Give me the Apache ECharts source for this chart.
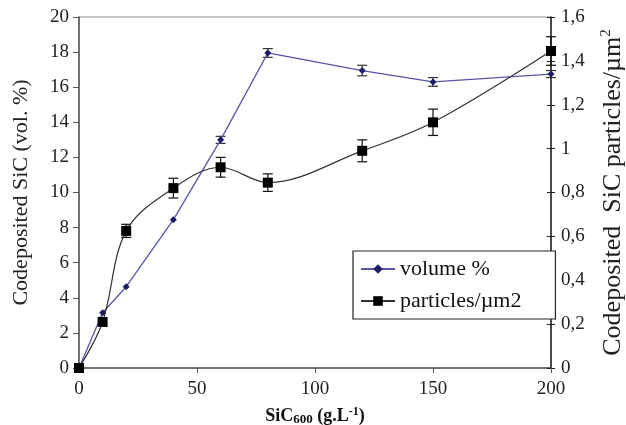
<!DOCTYPE html>
<html>
<head>
<meta charset="utf-8">
<script src="https://cdn.jsdelivr.net/npm/echarts@6/dist/echarts.min.js"></script>
<style>
  html, body { margin: 0; padding: 0; background: #fff; }
  #chart { width: 626px; height: 425px; }
</style>
</head>
<body>
<div id="chart"></div>
<script>
// concentration SiC600 (g/L)
const concentrations = [0, 10, 20, 40, 60, 80, 120, 150, 200];
// vol. % (left axis)
const volumePct = [0, 3.15, 4.63, 8.45, 13.0, 17.95, 16.95, 16.3, 16.75];
const volumeErr = [0, 0, 0, 0, 0.2, 0.25, 0.3, 0.25, 0.2];
// particles / um2 (right axis)
const particles = [0, 0.21, 0.625, 0.82, 0.915, 0.845, 0.99, 1.12, 1.445];
const particlesErr = [0, 0, 0.03, 0.045, 0.045, 0.04, 0.05, 0.06, 0.065];

const FONT = '"Liberation Serif", "DejaVu Serif", serif';

const chart = echarts.init(document.getElementById('chart'));

const pairs = (ys) => concentrations.map((x, i) => [x, ys[i]]);
const errRows = (ys, errs) => concentrations
  .map((x, i) => [x, ys[i], errs[i]])
  .filter(r => r[2] > 0);

// error bars drawn with custom series, positions come from the axis scales
const errorBar = (color) => function (params, api) {
  const x = api.value(0), y = api.value(1), e = api.value(2);
  const hi = api.coord([x, y + e]);
  const lo = api.coord([x, y - e]);
  const cap = 5;
  const style = { stroke: color, lineWidth: 1.2 };
  return {
    type: 'group',
    children: [
      { type: 'line', shape: { x1: hi[0], y1: hi[1], x2: lo[0], y2: lo[1] }, style },
      { type: 'line', shape: { x1: hi[0] - cap, y1: hi[1], x2: hi[0] + cap, y2: hi[1] }, style },
      { type: 'line', shape: { x1: lo[0] - cap, y1: lo[1], x2: lo[0] + cap, y2: lo[1] }, style }
    ]
  };
};

const commaFmt = v => String(Math.round(v * 10) / 10).replace('.', ',');

chart.setOption({
  animation: false,
  textStyle: { fontFamily: FONT },
  grid: {
    left: 79, right: 75, top: 17, bottom: 57,
    outerBoundsMode: 'none',
    containLabel: false,
    show: true, borderColor: '#8a8a8a', borderWidth: 1
  },
  legend: {
    orient: 'vertical',
    left: 353, top: 251,
    padding: [7, 34, 7, 7],
    itemGap: 10,
    itemWidth: 34, itemHeight: 12,
    borderColor: '#222', borderWidth: 1.2,
    backgroundColor: '#fff',
    textStyle: { fontFamily: FONT, fontSize: 22, color: '#111' },
    data: ['volume %', 'particles/µm2']
  },
  xAxis: {
    type: 'value', min: 0, max: 200, interval: 50,
    name: '{b|SiC}{sub|600}{b| (g.L}{sup|-1}{b|)}',
    nameLocation: 'middle', nameGap: 38,
    nameTextStyle: {
      rich: {
        b: { fontFamily: FONT, fontSize: 18, fontWeight: 'bold', color: '#111' },
        sub: { fontFamily: FONT, fontSize: 13, fontWeight: 'bold', color: '#111', verticalAlign: 'bottom', padding: [6, 0, 0, 0] },
        sup: { fontFamily: FONT, fontSize: 12, fontWeight: 'bold', color: '#111', verticalAlign: 'top', padding: [0, 0, 8, 0] }
      }
    },
    axisLine: { lineStyle: { color: '#555', width: 1.5 } },
    axisTick: { lineStyle: { color: '#555' }, length: 5 },
    axisLabel: { fontFamily: FONT, fontSize: 19, color: '#222', margin: 12 },
    splitLine: { show: false }
  },
  yAxis: [
    {
      type: 'value', min: 0, max: 20, interval: 2, position: 'left',
      name: 'Codeposited SiC (vol. %)',
      nameLocation: 'middle', nameGap: 47, nameRotate: 90,
      nameTextStyle: { fontFamily: FONT, fontSize: 22, color: '#222' },
      axisLine: { show: true, lineStyle: { color: '#555', width: 1.5 } },
      axisTick: { show: true, length: 6, lineStyle: { color: '#555' } },
      axisLabel: { fontFamily: FONT, fontSize: 19, color: '#222', margin: 10 },
      splitLine: { show: false }
    },
    {
      type: 'value', min: 0, max: 1.6, interval: 0.2, position: 'right',
      name: '{t|Codeposited  SiC particles/µm}{s|2}',
      nameLocation: 'middle', nameGap: 48, nameRotate: 90,
      nameTextStyle: {
        rich: {
          t: { fontFamily: FONT, fontSize: 26, color: '#222' },
          s: { fontFamily: FONT, fontSize: 15, color: '#222', verticalAlign: 'top', padding: [0, 0, 14, 0] }
        }
      },
      axisLine: { show: true, lineStyle: { color: '#222', width: 1.5 } },
      axisTick: { show: true, length: 4, lineStyle: { color: '#222' } },
      axisLabel: { fontFamily: FONT, fontSize: 19, color: '#222', margin: 10, formatter: commaFmt },
      splitLine: { show: false }
    },
    {
      // same right scale, only its inward ticks so the right axis ticks cross the line
      type: 'value', min: 0, max: 1.6, interval: 0.2, position: 'right',
      axisLine: { show: false },
      axisTick: { show: true, inside: true, length: 4, lineStyle: { color: '#222' } },
      axisLabel: { show: false },
      splitLine: { show: false }
    }
  ],
  series: [
    {
      name: 'volume %', type: 'line', yAxisIndex: 0,
      data: pairs(volumePct),
      symbol: 'diamond', symbolSize: 7,
      itemStyle: { color: '#1c1c66' },
      lineStyle: { color: '#5656a8', width: 1.3 },
      z: 3
    },
    {
      name: 'particles/µm2', type: 'line', yAxisIndex: 1,
      data: pairs(particles),
      smooth: 0.35,
      symbol: 'rect', symbolSize: 10,
      itemStyle: { color: '#000' },
      lineStyle: { color: '#333', width: 1.2 },
      z: 4
    },
    {
      type: 'custom', yAxisIndex: 0,
      data: errRows(volumePct, volumeErr),
      renderItem: errorBar('#333'),
      z: 2
    },
    {
      type: 'custom', yAxisIndex: 1,
      data: errRows(particles, particlesErr),
      renderItem: errorBar('#111'),
      z: 2
    }
  ]
});
</script>
</body>
</html>
